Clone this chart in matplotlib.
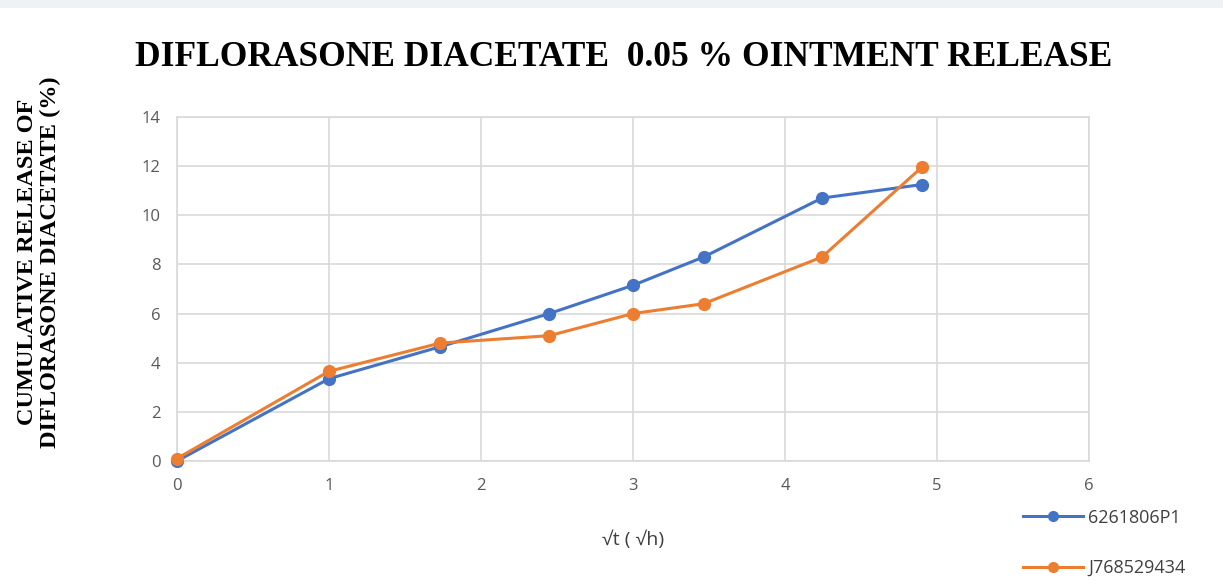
import matplotlib
matplotlib.use("Agg")
import matplotlib.pyplot as plt
from matplotlib.patches import Rectangle
from matplotlib.lines import Line2D

# Square root of sampling time (h^0.5)
sqrt_t = [0, 1, 1.732, 2.449, 3, 3.464, 4.243, 4.899]

# Cumulative release (%) per batch
batch_a_name = "6261806P1"
batch_a = [0.0, 3.35, 4.65, 6.0, 7.15, 8.3, 10.7, 11.25]
batch_b_name = "J768529434"
batch_b = [0.1, 3.65, 4.8, 5.1, 6.0, 6.4, 8.3, 11.95]

x_ticks = [0, 1, 2, 3, 4, 5, 6]
y_ticks = [0, 2, 4, 6, 8, 10, 12, 14]

title = "DIFLORASONE DIACETATE  0.05 % OINTMENT RELEASE"
y_label = "CUMULATIVE RELEASE OF\nDIFLORASONE DIACETATE (%)"
x_label = "\u221at ( \u221ah)"

blue = "#4472c4"
orange = "#ed7d31"
grid_c = "#d9d9d9"
tick_c = "#595959"

W, H = 1223, 581
fig = plt.figure(figsize=(W / 100, H / 100), dpi=100)
fig.patch.set_facecolor("white")
fig.patches.append(Rectangle((0, 1 - 8 / H), 1, 8 / H, transform=fig.transFigure,
                             facecolor="#eff1f3", edgecolor="none", zorder=0))

ax = fig.add_axes([177 / W, 1 - 461 / H, (1089 - 177) / W, (461 - 117) / H])
ax.plot(sqrt_t, batch_a, color=blue, lw=2.2, marker="o", ms=8.5, zorder=3,
        clip_on=False)
ax.plot(sqrt_t, batch_b, color=orange, lw=2.2, marker="o", ms=8.5, zorder=4,
        clip_on=False)

ax.set_xlim(0, 6)
ax.set_ylim(0, 14)
ax.set_xticks(x_ticks)
ax.set_yticks(y_ticks)
ax.grid(True, color=grid_c, lw=1.2)
ax.set_axisbelow(True)
for s in ax.spines.values():
    s.set_color(grid_c)
    s.set_linewidth(1.2)
ax.tick_params(length=0, labelsize=12, labelcolor=tick_c, pad=12)
for lab in ax.get_xticklabels() + ax.get_yticklabels():
    lab.set_fontfamily("Open Sans")

fig.text(624 / W, 1 - 58 / H, title, ha="center", va="center",
         fontsize=25.5, fontweight="bold", family="Liberation Serif")
fig.text(39 / W, 1 - 262 / H, y_label, ha="center", va="center", rotation=90,
         fontsize=17.5, fontweight="bold", family="Liberation Serif",
         linespacing=1.15)
fig.text(633 / W, 1 - 540 / H, x_label, ha="center", va="center",
         fontsize=14, color="#404040", family="Open Sans")

handles = [Line2D([], [], color=blue, lw=2.2, marker="o", ms=7),
           Line2D([], [], color=orange, lw=2.2, marker="o", ms=7)]
leg = fig.legend(handles, [batch_a_name, batch_b_name],
                 loc="center left", bbox_to_anchor=(1007 / W, 1 - 543 / H),
                 frameon=False, handlelength=3.3, handletextpad=0.3,
                 labelspacing=1.8, prop={"family": "Open Sans", "size": 13})
for t in leg.get_texts():
    t.set_color("#404040")

fig.savefig("out.png", dpi=100)
